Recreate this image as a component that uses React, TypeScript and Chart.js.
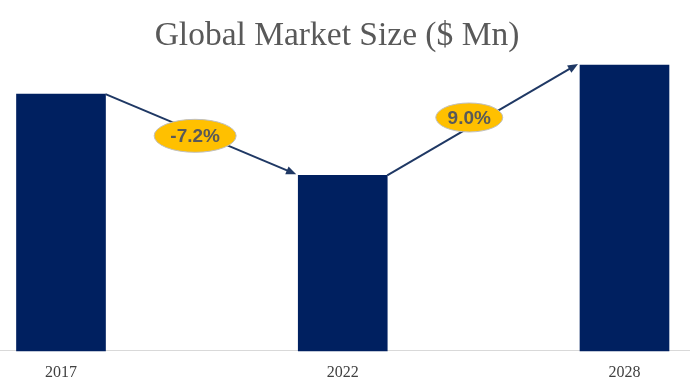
import React, { useEffect, useRef } from "react";
import { Chart, registerables } from "chart.js";

Chart.register(...registerables);

const categories = ["2017", "2022", "2028"];
const marketSize = [256, 175, 285];
const cagrLabels = ["-7.2%", "9.0%"];
const titleText = "Global Market Size ($ Mn)";

const NAVY = "#002060";
const ARROW = "#1F3864";

const arrowPlugin = {
  id: "arrowPlugin",
  afterDatasetsDraw(chart: any) {
    const ctx = chart.ctx;
    const meta = chart.getDatasetMeta(0);
    const els = meta.data;
    const labelPos = [
      { t: 0.47, dy: 4, w: 82, h: 33 },
      { t: 0.43, dy: -10, w: 67, h: 29 },
    ];
    for (let i = 0; i < els.length - 1; i++) {
      const a = els[i];
      const b = els[i + 1];
      const x1 = a.x + a.width / 2;
      const y1 = a.y;
      const x2 = b.x - b.width / 2 - 2;
      const y2 = b.y - 1;
      ctx.save();
      ctx.strokeStyle = ARROW;
      ctx.fillStyle = ARROW;
      ctx.lineWidth = 2;
      const ang = Math.atan2(y2 - y1, x2 - x1);
      const hl = 11;
      ctx.beginPath();
      ctx.moveTo(x1, y1);
      ctx.lineTo(x2 - Math.cos(ang) * hl * 0.8, y2 - Math.sin(ang) * hl * 0.8);
      ctx.stroke();
      ctx.beginPath();
      ctx.moveTo(x2, y2);
      ctx.lineTo(x2 - hl * Math.cos(ang - 0.4), y2 - hl * Math.sin(ang - 0.4));
      ctx.lineTo(x2 - hl * Math.cos(ang + 0.4), y2 - hl * Math.sin(ang + 0.4));
      ctx.closePath();
      ctx.fill();

      const p = labelPos[i] || { t: 0.5, dy: 0, w: 70, h: 30 };
      const cx = x1 + (x2 - x1) * p.t;
      const cy = y1 + (y2 - y1) * p.t + p.dy;
      ctx.beginPath();
      ctx.ellipse(cx, cy, p.w / 2, p.h / 2, 0, 0, Math.PI * 2);
      ctx.fillStyle = "#FFC000";
      ctx.fill();
      ctx.strokeStyle = "#BFBFBF";
      ctx.lineWidth = 1;
      ctx.stroke();
      ctx.fillStyle = "#595959";
      ctx.font = "bold 19px 'Liberation Sans', sans-serif";
      ctx.textAlign = "center";
      ctx.textBaseline = "middle";
      ctx.fillText(cagrLabels[i], cx, cy + 1);
      ctx.restore();
    }
  },
  afterDraw(chart: any) {
    const ctx = chart.ctx;
    ctx.save();
    ctx.fillStyle = "#595959";
    ctx.font = "33.5px 'Liberation Serif', serif";
    ctx.textAlign = "center";
    ctx.textBaseline = "alphabetic";
    ctx.fillText(titleText, 337, 45);
    ctx.restore();
  },
};

export default function App() {
  const ref = useRef<HTMLCanvasElement | null>(null);
  useEffect(() => {
    document.body.style.margin = "0";
    const canvas = ref.current;
    if (!canvas) return;
    const chart = new Chart(canvas, {
      type: "bar",
      data: {
        datasets: [
          {
            data: marketSize.map((v, i) => ({ x: i, y: v })),
            backgroundColor: NAVY,
            barThickness: 89,
            clip: false as any,
          },
        ],
      },
      options: {
        responsive: false,
        animation: false,
        layout: { padding: { top: 50, bottom: -6, left: 0, right: 0 } },
        plugins: {
          legend: { display: false },
          title: { display: false },
          tooltip: { enabled: false },
        },
        scales: {
          x: {
            type: "linear",
            offset: false,
            min: -0.2165,
            max: 2.2325,
            afterBuildTicks: (scale: any) => {
              scale.ticks = categories.map((_, i) => ({ value: i }));
            },
            grid: { display: false, drawTicks: false, offset: false },
            border: { display: true, color: "#D9D9D9", width: 1 },
            ticks: {
              autoSkip: false,
              maxRotation: 0,
              padding: 12,
              color: "#404040",
              font: { family: "'Liberation Serif', serif", size: 16 },
              callback: (v: any) => categories[v as number] ?? "",
            },
          },
          y: {
            display: false,
            min: 0,
            max: 300,
          },
        },
      },
      plugins: [arrowPlugin],
    });
    return () => chart.destroy();
  }, []);
  return (
    <div style={{ width: 690, height: 388 }}>
      <canvas ref={ref} width={690} height={388} style={{ display: "block" }} />
    </div>
  );
}
